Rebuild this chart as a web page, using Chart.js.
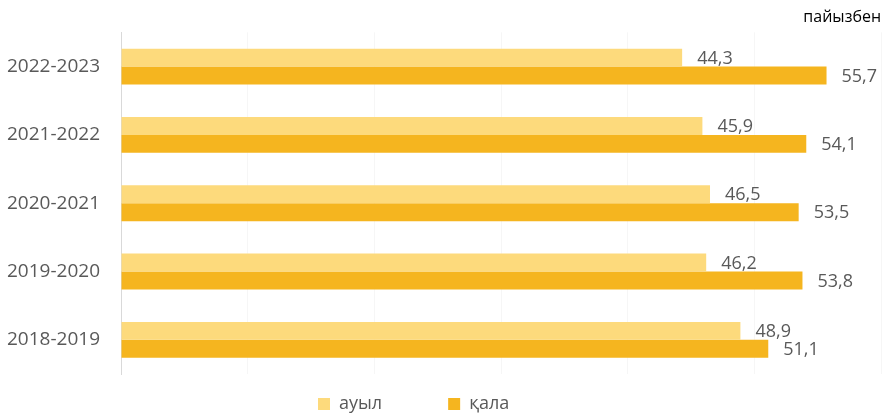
<!DOCTYPE html>
<html>
<head>
<meta charset="utf-8">
<script src="https://cdn.jsdelivr.net/npm/chart.js@4/dist/chart.umd.min.js"></script>
<style>
  html, body { margin: 0; padding: 0; background: #fff; }
  #wrap { width: 890px; height: 417px; position: relative; }
</style>
</head>
<body>
<div id="wrap"><canvas id="chart"></canvas></div>
<script>
const years = ['2022-2023', '2021-2022', '2020-2021', '2019-2020', '2018-2019'];
const rural = [44.3, 45.9, 46.5, 46.2, 48.9];
const urban = [55.7, 54.1, 53.5, 53.8, 51.1];
const seriesNames = ['ауыл', 'қала'];
const unitText = 'пайызбен';

const grey = '#595959';
const font = 'Open Sans';

// value labels to the right of each bar, comma decimal
const barLabels = {
  id: 'barLabels',
  afterDatasetsDraw(chart) {
    const ctx = chart.ctx;
    ctx.save();
    ctx.font = '18px "' + font + '"';
    ctx.fillStyle = grey;
    ctx.textAlign = 'left';
    ctx.textBaseline = 'middle';
    chart.data.datasets.forEach((ds, i) => {
      chart.getDatasetMeta(i).data.forEach((bar, j) => {
        const txt = ds.data[j].toFixed(1).replace('.', ',');
        ctx.fillText(txt, bar.x + 15, bar.y + 1);
      });
    });
    ctx.restore();
  }
};

// move the legend to where it sits in the original
const legendPlace = {
  id: 'legendPlace',
  afterLayout(chart) {
    const lg = chart.legend;
    const pad = 66;
    lg.left = 318 - pad;
    lg.right = 890;
    lg.top = 395 - pad;
    lg.bottom = 417;
  }
};

new Chart(document.querySelector('#chart').getContext('2d'), {
  type: 'bar',
  data: {
    labels: years,
    datasets: [
      {
        label: seriesNames[0],
        data: rural,
        backgroundColor: '#FDDA7C',
        borderWidth: 0
      },
      {
        label: seriesNames[1],
        data: urban,
        backgroundColor: '#F5B51F',
        borderWidth: 0
      }
    ]
  },
  options: {
    indexAxis: 'y',
    responsive: true,
    maintainAspectRatio: false,
    animation: false,
    datasets: {
      bar: { barPercentage: 1, categoryPercentage: 0.525 }
    },
    layout: { padding: { left: 0, right: 9, top: 0, bottom: 0 } },
    scales: {
      x: {
        min: 0,
        max: 60,
        ticks: { display: false, stepSize: 10 },
        grid: { color: '#f6f6f6', drawTicks: false },
        border: { display: false }
      },
      y: {
        ticks: { color: grey, font: { family: font, size: 19 }, padding: 21 },
        grid: { display: false, drawTicks: false },
        border: { display: true, color: '#d9d9d9', width: 1 },
        afterFit(scale) { scale.width = 121; }
      }
    },
    plugins: {
      title: {
        display: true,
        text: unitText,
        align: 'end',
        color: '#000',
        font: { family: font, size: 16, weight: 'normal' },
        padding: { top: 4, bottom: 5 }
      },
      legend: {
        position: 'bottom',
        align: 'start',
        maxHeight: 43,
        labels: {
          boxWidth: 12,
          boxHeight: 12,
          padding: 66,
          color: grey,
          font: { family: font, size: 18 }
        }
      },
      tooltip: { enabled: false }
    }
  },
  plugins: [barLabels, legendPlace]
});
</script>
</body>
</html>
